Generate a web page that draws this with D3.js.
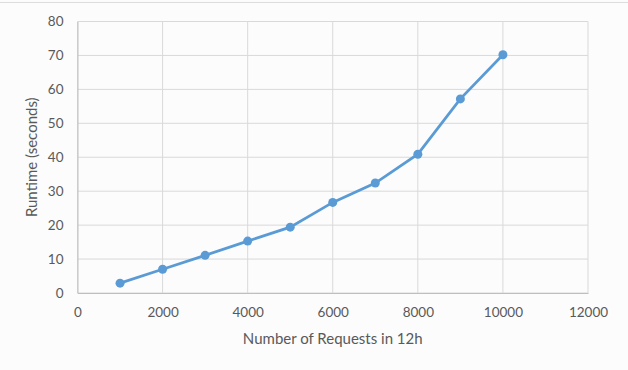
<!DOCTYPE html>
<html>
<head>
<meta charset="utf-8">
<script src="https://cdn.jsdelivr.net/npm/d3@7"></script>
<style>
  body { margin: 0; background: #fcfcfc; }
  text { font-family: Lato, "Open Sans", sans-serif; fill: #595959; }
</style>
</head>
<body>
<svg id="chart"></svg>
<script>
const requests = [1000, 2000, 3000, 4000, 5000, 6000, 7000, 8000, 9000, 10000];
const runtime = [2.9, 7.0, 11.1, 15.3, 19.4, 26.7, 32.4, 40.9, 57.2, 70.2];
const xTicks = [0, 2000, 4000, 6000, 8000, 10000, 12000];
const yTicks = [0, 10, 20, 30, 40, 50, 60, 70, 80];

const width = 628, height = 370;
const margin = {top: 21.5, bottom: 77, left: 77.5, right: 40};

const svg = d3.select('#chart')
  .attr('width', width)
  .attr('height', height);

// faint page border on top
svg.append('line')
  .attr('x1', 0).attr('x2', width)
  .attr('y1', 2.5).attr('y2', 2.5)
  .attr('stroke', '#dcdcdc');

const xScale = d3.scaleLinear()
  .domain([0, 12000])
  .range([margin.left, width - margin.right]);

const yScale = d3.scaleLinear()
  .domain([0, 80])
  .range([height - margin.bottom, margin.top]);

// grid
svg.append('g')
  .selectAll('line')
  .data(yTicks)
  .join('line')
  .attr('x1', margin.left).attr('x2', width - margin.right)
  .attr('y1', d => yScale(d)).attr('y2', d => yScale(d))
  .attr('stroke', '#d9d9d9');

svg.append('g')
  .selectAll('line')
  .data(xTicks)
  .join('line')
  .attr('y1', yScale(0)).attr('y2', yScale(80))
  .attr('x1', d => xScale(d)).attr('x2', d => xScale(d))
  .attr('stroke', '#d9d9d9');

const xAxis = d3.axisBottom(xScale).tickValues(xTicks).tickFormat(d3.format('d')).tickSize(0).tickPadding(14);
const yAxis = d3.axisLeft(yScale).tickValues(yTicks).tickFormat(d3.format('d')).tickSize(0).tickPadding(14);

const gx = svg.append('g')
  .attr('transform', 'translate(' + [0, yScale(0)] + ')')
  .call(xAxis);
gx.select('.domain').attr('stroke', '#bfbfbf');
gx.selectAll('text').style('font-size', '13.5px').attr('fill', '#595959');

const gy = svg.append('g')
  .attr('transform', 'translate(' + [margin.left, 0] + ')')
  .call(yAxis);
gy.select('.domain').attr('stroke', '#bfbfbf');
gy.selectAll('text').style('font-size', '13.5px').attr('fill', '#595959');

const line = d3.line()
  .x((d, i) => xScale(requests[i]))
  .y(d => yScale(d));

svg.append('path')
  .attr('d', line(runtime))
  .attr('stroke', '#5b9bd5')
  .attr('stroke-width', 2.75)
  .attr('fill', 'none');

svg.append('g')
  .selectAll('circle')
  .data(runtime)
  .join('circle')
  .attr('cx', (d, i) => xScale(requests[i]))
  .attr('cy', d => yScale(d))
  .attr('r', 4.5)
  .attr('fill', '#5b9bd5');

svg.append('text')
  .attr('x', (xScale(0) + xScale(12000)) / 2)
  .attr('y', 344)
  .attr('text-anchor', 'middle')
  .style('font-size', '15px')
  .text('Number of Requests in 12h');

svg.append('text')
  .attr('transform', 'translate(' + [37, (yScale(0) + yScale(80)) / 2] + ') rotate(-90)')
  .attr('text-anchor', 'middle')
  .style('font-size', '15px')
  .text('Runtime (seconds)');
</script>
</body>
</html>
